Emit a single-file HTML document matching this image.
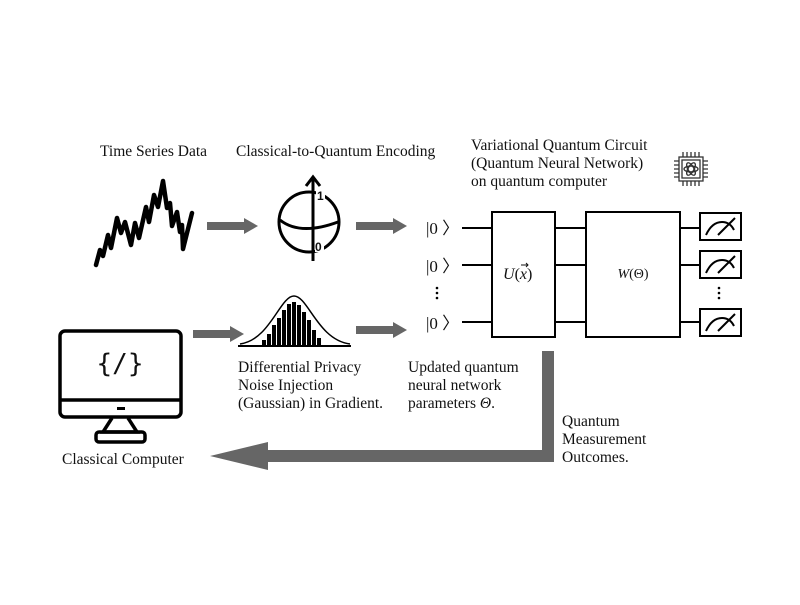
<!DOCTYPE html>
<html><head><meta charset="utf-8"><style>
html,body{margin:0;padding:0;background:#fff;}
svg text{font-family:"Liberation Serif",serif;fill:#111;}
</style></head><body>
<svg width="800" height="600" viewBox="0 0 800 600" xmlns="http://www.w3.org/2000/svg">
<rect width="800" height="600" fill="#fff"/>
<g font-size="15.5">
<text x="100" y="156">Time Series Data</text>
<text x="236" y="156">Classical-to-Quantum Encoding</text>
<text x="471" y="150">Variational Quantum Circuit</text>
<text x="471" y="168">(Quantum Neural Network)</text>
<text x="471" y="186">on quantum computer</text>
<text x="238" y="372">Differential Privacy</text>
<text x="238" y="390">Noise Injection</text>
<text x="238" y="408">(Gaussian) in Gradient.</text>
<text x="408" y="372">Updated  quantum</text>
<text x="408" y="390">neural network</text>
<text x="408" y="408">parameters <tspan font-style="italic">Θ</tspan>.</text>
<text x="562" y="426">Quantum</text>
<text x="562" y="444">Measurement</text>
<text x="562" y="462">Outcomes.</text>
<text x="62" y="464">Classical Computer</text>
</g>
<polyline fill="none" stroke="#000" stroke-width="4.5" stroke-linejoin="round" stroke-linecap="round" points="96,265 100,250 103,256 108,235 111,248 117,218 121,233 125,222 131,245 135,223 139,238 146,207 149,222 154,195 158,207 163,181 167,208 170,203 172,226 177,212 180,232 182,225 183,249 192,213"/>
<g fill="#666">
<rect x="207" y="222" width="38" height="8"/><polygon points="244,218 258,226 244,234"/>
<rect x="356" y="222" width="38" height="8"/><polygon points="393,218 407,226 393,234"/>
<rect x="193" y="330" width="38" height="8"/><polygon points="230,326 244,334 230,342"/>
<rect x="356" y="326" width="38" height="8"/><polygon points="393,322 407,330 393,338"/>
<rect x="542" y="351" width="12" height="111"/>
<rect x="266" y="450" width="288" height="12"/>
<polygon points="210,456 268,442 268,470"/>
</g>
<g fill="none" stroke="#000" stroke-width="3">
<circle cx="309" cy="222" r="30"/>
<path d="M280,220 Q300,236 338,222"/>
<line x1="313" y1="178" x2="313" y2="261"/>
<polyline points="306,186 313,177 320,186"/>
</g>
<rect x="316" y="189" width="9" height="12" fill="#fff"/>
<rect x="315" y="240" width="9" height="12" fill="#fff"/>
<text x="317" y="200" font-weight="bold" font-size="12" style="font-family:'Liberation Sans',sans-serif">1</text>
<text x="315" y="251" font-weight="bold" font-size="12" style="font-family:'Liberation Sans',sans-serif">0</text>
<g fill="#000">
<rect x="267" y="334" width="4" height="12"/><rect x="272" y="325" width="4" height="21"/>
<rect x="277" y="318" width="4" height="28"/><rect x="282" y="310" width="4" height="36"/>
<rect x="287" y="304" width="4" height="42"/><rect x="292" y="302" width="4" height="44"/>
<rect x="297" y="305" width="4" height="41"/><rect x="302" y="312" width="4" height="34"/>
<rect x="307" y="320" width="4" height="26"/><rect x="312" y="330" width="4" height="16"/>
<rect x="262" y="340" width="4" height="6"/><rect x="317" y="338" width="4" height="8"/>
</g>
<path d="M240,344 C270,340 280,296 294,296 C308,296 318,340 350,344" fill="none" stroke="#000" stroke-width="1.5"/>
<line x1="238" y1="346" x2="351" y2="346" stroke="#000" stroke-width="2"/>
<g fill="none" stroke="#000" stroke-width="3.5">
<rect x="60" y="331" width="121" height="86" rx="5"/>
<line x1="60" y1="400" x2="181" y2="400"/>
<polyline points="112,418 103,432 137,432 128,418"/>
<rect x="96" y="432" width="49" height="10" rx="3"/>
</g>
<rect x="117" y="407" width="8" height="3" fill="#000"/>
<text x="120" y="372" text-anchor="middle" font-size="26" style="font-family:'DejaVu Sans Mono',monospace">{/}</text>
<g font-size="17" font-family="Liberation Serif">
<text x="426" y="234">|0 〉</text>
<text x="426" y="272">|0 〉</text>
<text x="426" y="329">|0 〉</text>
</g>
<g stroke="#000" stroke-width="2" fill="none">
<line x1="462" y1="228" x2="492" y2="228"/><line x1="462" y1="265" x2="492" y2="265"/><line x1="462" y1="322" x2="492" y2="322"/>
<line x1="555" y1="228" x2="586" y2="228"/><line x1="555" y1="265" x2="586" y2="265"/><line x1="555" y1="322" x2="586" y2="322"/>
<line x1="680" y1="228" x2="700" y2="228"/><line x1="680" y1="265" x2="700" y2="265"/><line x1="680" y1="322" x2="700" y2="322"/>
<rect x="492" y="212" width="63" height="125"/>
<rect x="586" y="212" width="94" height="125"/>
<rect x="700" y="213" width="41" height="27"/>
<rect x="700" y="251" width="41" height="27"/>
<rect x="700" y="309" width="41" height="27"/>
<path d="M706,235 Q712,222 722,222 Q730,222 734,230 M718,235 L735,218"/>
<path d="M706,273 Q712,260 722,260 Q730,260 734,268 M718,273 L735,256"/>
<path d="M706,331 Q712,318 722,318 Q730,318 734,326 M718,331 L735,314"/>
</g>
<g fill="#000">
<circle cx="437" cy="288" r="1.3"/><circle cx="437" cy="293" r="1.3"/><circle cx="437" cy="298" r="1.3"/>
<circle cx="719" cy="288" r="1.3"/><circle cx="719" cy="293" r="1.3"/><circle cx="719" cy="298" r="1.3"/>
</g>
<text x="503" y="279" font-size="16"><tspan font-style="italic">U</tspan>(<tspan font-style="italic">x</tspan>)</text>
<path d="M521,265 h7 M526,263 l2,2 -2,2" stroke="#111" stroke-width="1" fill="none"/>
<text x="633" y="278" text-anchor="middle" font-size="14"><tspan font-style="italic">W</tspan>(Θ)</text>
<g fill="none" stroke="#333" stroke-width="1.3">
<rect x="679" y="157" width="24" height="24"/>
<rect x="682" y="160" width="18" height="18"/>
<circle cx="691" cy="169" r="3"/>
<ellipse cx="691" cy="169" rx="7" ry="3"/>
<ellipse cx="691" cy="169" rx="7" ry="3" transform="rotate(60 691 169)"/>
<ellipse cx="691" cy="169" rx="7" ry="3" transform="rotate(-60 691 169)"/>
<path d="M683,157v-5M687,157v-5M691,157v-5M695,157v-5M699,157v-5M683,181v5M687,181v5M691,181v5M695,181v5M699,181v5M679,161h-5M679,165h-5M679,169h-5M679,173h-5M679,177h-5M703,161h5M703,165h5M703,169h5M703,173h5M703,177h5"/>
</g>
</svg>
</body></html>
